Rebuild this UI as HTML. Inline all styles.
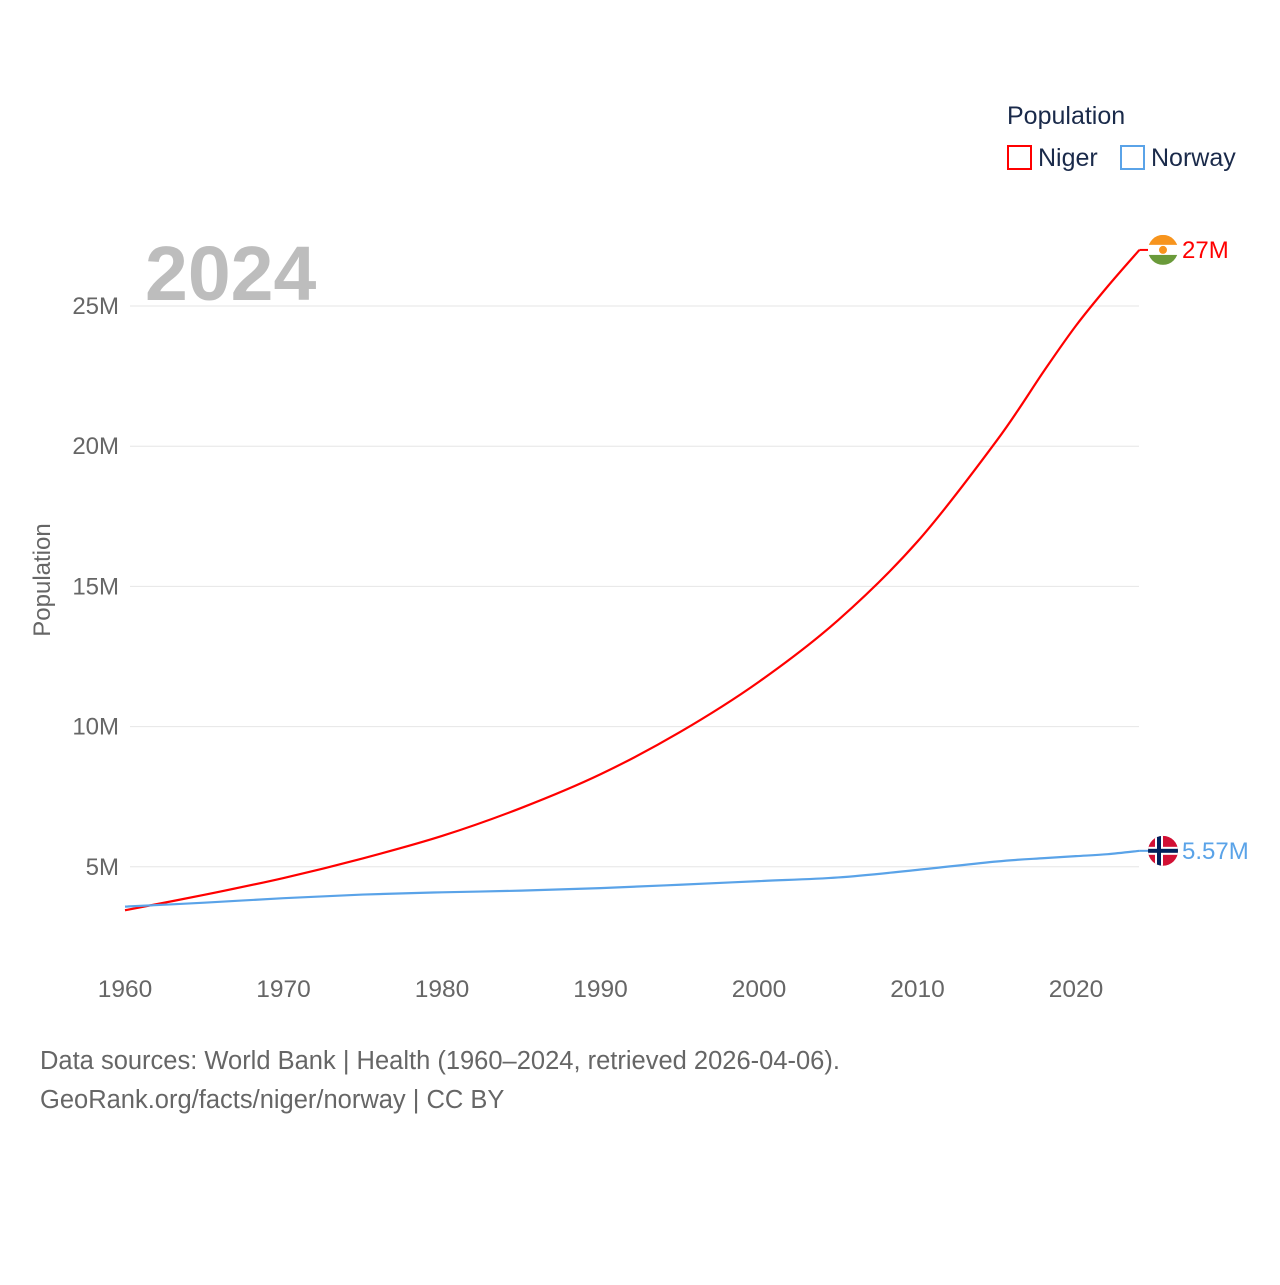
<!DOCTYPE html>
<html><head><meta charset="utf-8"><style>
body{margin:0;background:#fff;font-family:"Liberation Sans",sans-serif}
svg text{font-family:"Liberation Sans",sans-serif}
</style></head><body>
<svg id="chart" width="1280" height="1280" xmlns="http://www.w3.org/2000/svg">
<text x="1007" y="124" font-size="25" fill="#1a2a4a">Population</text>
<g><rect x="1008" y="146" width="23" height="23" fill="none" stroke="#f00" stroke-width="2"/><text x="1038" y="166" font-size="25" fill="#1a2a4a">Niger</text></g>
<g><rect x="1121" y="146" width="23" height="23" fill="none" stroke="#5aa3e8" stroke-width="2"/><text x="1151" y="166" font-size="25" fill="#1a2a4a">Norway</text></g>
<text x="145" y="300" font-size="77" font-weight="bold" fill="#bdbdbd">2024</text>
<text transform="translate(50,580) rotate(-90)" text-anchor="middle" font-size="24" fill="#666">Population</text>
<g id="grid"></g><g id="series"></g>
<text x="40" y="1069" font-size="25.5" fill="#666">Data sources: World Bank | Health (1960–2024, retrieved 2026-04-06).</text>
<text x="40" y="1108" font-size="25.5" fill="#666">GeoRank.org/facts/niger/norway | CC BY</text>
</svg>
<script>
const years=[1960,1965,1970,1975,1980,1985,1990,1995,2000,2005,2010,2015,2018,2020,2022,2024];
const niger=[3.45,4.0,4.6,5.3,6.1,7.1,8.3,9.8,11.6,13.8,16.6,20.2,22.7,24.3,25.7,27.0];
const norway=[3.58,3.72,3.88,4.01,4.09,4.15,4.24,4.36,4.49,4.62,4.89,5.19,5.31,5.38,5.45,5.57];
const yTicks=[5,10,15,20,25];
const xTicks=[1960,1970,1980,1990,2000,2010,2020];
const NS="http://www.w3.org/2000/svg";
const X=y=>125+(y-1960)*15.85;
const Y=v=>1007-v*28.04;
function mk(t,a,p){const e=document.createElementNS(NS,t);for(const k in a)e.setAttribute(k,a[k]);p.appendChild(e);return e;}
const g=document.getElementById('grid'),s=document.getElementById('series');
yTicks.forEach(v=>{
 const l=mk('line',{x1:130,x2:1139,y1:Y(v),y2:Y(v),stroke:'#e6e6e6'},g);
 
 
 const t=mk('text',{x:119,y:Y(v)+8,'text-anchor':'end','font-size':24,fill:'#666'},g);t.textContent=v+'M';
 
 
});
xTicks.forEach(v=>{
 const t=mk('text',{x:X(v),y:997,'text-anchor':'middle','font-size':24.5,fill:'#666'},g);t.textContent=v;
 
 
});
function path(vals){const p=vals.map((v,i)=>[X(years[i]),Y(v)]);let d='M'+p[0];for(let i=0;i<p.length-1;i++){const p0=p[Math.max(0,i-1)],p1=p[i],p2=p[i+1],p3=p[Math.min(p.length-1,i+2)];d+=` C${p1[0]+(p2[0]-p0[0])/6},${p1[1]+(p2[1]-p0[1])/6} ${p2[0]-(p3[0]-p1[0])/6},${p2[1]-(p3[1]-p1[1])/6} ${p2[0]},${p2[1]}`;}return d;}
function series(vals,col,name,label){
 const p=mk('path',{d:path(vals),fill:'none',stroke:col,'stroke-width':2.2},s);
 
 
 const last=vals[vals.length-1],yy=Y(last);
 mk('line',{x1:X(years[years.length-1]),x2:1148,y1:yy,y2:yy,stroke:col,'stroke-width':2},s);
 const t=mk('text',{x:1182,y:yy+8,'font-size':24,fill:col},s);t.textContent=label;
 
 
 return yy;
}
const ny=series(niger,'#f00','niger',Math.round(niger[niger.length-1])+'M');
const wy=series(norway,'#5aa3e8','norway',norway[norway.length-1].toFixed(2)+'M');
const f1=mk('g',{},s);


mk('clipPath',{id:'c1'},f1);mk('circle',{cx:1163,cy:ny,r:15},f1.lastChild);
const fg=mk('g',{'clip-path':'url(#c1)'},f1);
mk('rect',{x:1148,y:ny-15,width:30,height:10,fill:'#f7941d'},fg);
mk('rect',{x:1148,y:ny-5,width:30,height:10,fill:'#fff'},fg);
mk('rect',{x:1148,y:ny+5,width:30,height:10,fill:'#6a9a3a'},fg);
mk('circle',{cx:1163,cy:ny,r:4,fill:'#f7941d'},fg);
const f2=mk('g',{},s);


mk('clipPath',{id:'c2'},f2);mk('circle',{cx:1163,cy:wy,r:15},f2.lastChild);
const fh=mk('g',{'clip-path':'url(#c2)'},f2);
mk('rect',{x:1148,y:wy-15,width:30,height:30,fill:'#d21034'},fh);
mk('rect',{x:1155,y:wy-15,width:8,height:30,fill:'#fff'},fh);
mk('rect',{x:1148,y:wy-4,width:30,height:8,fill:'#fff'},fh);
mk('rect',{x:1157,y:wy-15,width:4,height:30,fill:'#00205b'},fh);
mk('rect',{x:1148,y:wy-2,width:30,height:4,fill:'#00205b'},fh);
</script>
</body></html>
